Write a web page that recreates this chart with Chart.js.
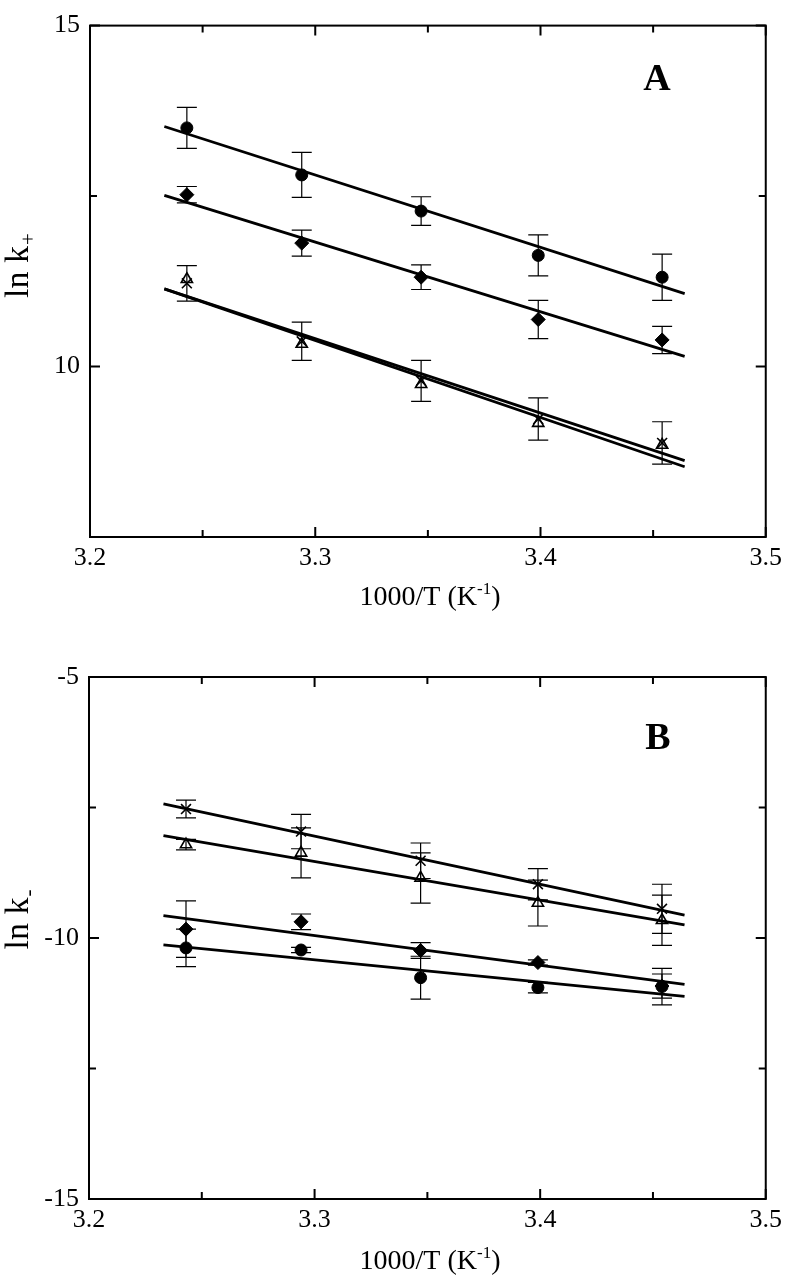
<!DOCTYPE html>
<html>
<head>
<meta charset="utf-8">
<script src="https://cdn.jsdelivr.net/npm/chart.js@4.4.0/dist/chart.umd.min.js"></script>
<style>
  body { margin: 0; background: #fff; }
  .panel { position: absolute; left: 0; width: 788px; height: 640px; }
</style>
</head>
<body>
<div class="panel" style="top:0"><canvas id="chartA" width="788" height="640"></canvas></div>
<div class="panel" style="top:640px"><canvas id="chartB" width="788" height="640"></canvas></div>
<script>
// 1000/T values of the five temperatures, and the x span of the fitted lines
const invTemp = [3.243, 3.294, 3.347, 3.399, 3.454];
const fitX = [3.233, 3.464];

// Panel A: ln k+
const circleA = [13.50, 12.81, 12.28, 11.63, 11.31];
const circleErrA = [0.30, 0.33, 0.21, 0.30, 0.34];
const circleFitA = [13.52, 11.07];
const diamondA = [12.52, 11.81, 11.31, 10.69, 10.39];
const diamondErrA = [0.12, 0.19, 0.18, 0.28, 0.20];
const diamondFitA = [12.51, 10.15];
const triangleA = [11.28, 10.33, 9.74, 9.17, 8.85];
const triangleFitA = [11.14, 8.53];
const crossA = [11.22, 10.37, 9.79, 9.23, 8.88];
const crossErrA = [0.26, 0.28, 0.30, 0.31, 0.31];
const crossFitA = [11.14, 8.62];

// Panel B: ln k-
const crossB = [-7.53, -7.96, -8.52, -8.97, -9.44];
const crossErrB = [0.17, 0.33, 0.34, 0.30, 0.47];
const crossFitB = [-7.43, -9.56];
const triangleB = [-8.21, -8.37, -8.85, -9.33, -9.66];
const triangleErrB = [0.10, 0.48, 0.48, 0.44, 0.48];
const triangleFitB = [-8.04, -9.75];
const diamondB = [-9.83, -9.69, -10.24, -10.47, -10.92];
const diamondErrB = [0.54, 0.15, 0.15, 0.05, 0.23];
const diamondFitB = [-9.57, -10.89];
const circleB = [-10.19, -10.23, -10.76, -10.95, -10.93];
const circleErrB = [0.36, 0.05, 0.41, 0.10, 0.35];
const circleFitB = [-10.13, -11.12];

// axes
const xRange = [3.2, 3.5];
const yRangeA = [7.5, 15];
const yRangeB = [-15, -5];

const serif = '"Liberation Serif", "Times New Roman", serif';
Chart.defaults.font.family = serif;
Chart.defaults.color = '#000';

const markers = {
    circle:   { pointStyle: 'circle',   pointRadius: 6,   backgroundColor: '#000', borderColor: '#000', borderWidth: 1 },
    diamond:  { pointStyle: 'rectRot',  pointRadius: 7,   backgroundColor: '#000', borderColor: '#000', borderWidth: 1 },
    triangle: { pointStyle: 'triangle', pointRadius: 6.5, backgroundColor: 'rgba(0,0,0,0)', borderColor: '#000', borderWidth: 1.6 },
    cross:    { pointStyle: 'crossRot', pointRadius: 7,   backgroundColor: '#000', borderColor: '#000', borderWidth: 1.6 }
};

function isMultiple(v, step) {
    const q = v / step;
    return Math.abs(q - Math.round(q)) < 1e-6;
}

// box frame with inward ticks on all four sides
const framePlugin = {
    id: 'frame',
    afterDraw(chart) {
        const { ctx, chartArea: a, scales: { x, y } } = chart;
        ctx.save();
        ctx.strokeStyle = '#000';
        ctx.lineWidth = 2;
        ctx.strokeRect(a.left, a.top, a.right - a.left, a.bottom - a.top);
        ctx.beginPath();
        x.ticks.forEach(t => {
            const px = x.getPixelForValue(t.value);
            const len = isMultiple(t.value, 0.1) ? 10 : 7;
            ctx.moveTo(px, a.bottom); ctx.lineTo(px, a.bottom - len);
            ctx.moveTo(px, a.top); ctx.lineTo(px, a.top + len);
        });
        y.ticks.forEach(t => {
            const py = y.getPixelForValue(t.value);
            const len = isMultiple(t.value, 5) ? 10 : 7;
            ctx.moveTo(a.left, py); ctx.lineTo(a.left + len, py);
            ctx.moveTo(a.right, py); ctx.lineTo(a.right - len, py);
        });
        ctx.stroke();
        ctx.restore();
    }
};

// vertical error bars with caps
const errorBarPlugin = {
    id: 'errorBars',
    beforeDatasetsDraw(chart) {
        const { ctx, scales: { x, y } } = chart;
        ctx.save();
        ctx.strokeStyle = '#000';
        ctx.lineWidth = 1.2;
        chart.data.datasets.forEach(ds => {
            if (!ds.errors) return;
            ds.data.forEach((p, i) => {
                const e = ds.errors[i];
                const px = x.getPixelForValue(p.x);
                const top = y.getPixelForValue(p.y + e);
                const bot = y.getPixelForValue(p.y - e);
                ctx.beginPath();
                ctx.moveTo(px, top); ctx.lineTo(px, bot);
                ctx.moveTo(px - 10, top); ctx.lineTo(px + 10, top);
                ctx.moveTo(px - 10, bot); ctx.lineTo(px + 10, bot);
                ctx.stroke();
            });
        });
        ctx.restore();
    }
};

// axis titles with super/subscripts and the panel letter
const textPlugin = {
    id: 'texts',
    afterDraw(chart, args, o) {
        const ctx = chart.ctx;
        ctx.save();
        ctx.fillStyle = '#000';
        ctx.textBaseline = 'alphabetic';
        ctx.textAlign = 'left';

        const big = '28px ' + serif, small = '17px ' + serif;
        ctx.font = big;
        const w1 = ctx.measureText('1000/T (K').width;
        const w3 = ctx.measureText(')').width;
        ctx.font = small;
        const w2 = ctx.measureText('-1').width;
        let sx = o.xTitleX - (w1 + w2 + w3) / 2;
        ctx.font = big;
        ctx.fillText('1000/T (K', sx, o.xTitleY);
        ctx.font = small;
        ctx.fillText('-1', sx + w1, o.xTitleY - 11);
        ctx.font = big;
        ctx.fillText(')', sx + w1 + w2, o.xTitleY);

        ctx.save();
        ctx.translate(o.yTitleX, o.yTitleY);
        ctx.rotate(-Math.PI / 2);
        const yBig = '34px ' + serif, ySmall = '21px ' + serif;
        ctx.font = yBig;
        const m1 = ctx.measureText('ln k').width;
        ctx.font = ySmall;
        const m2 = ctx.measureText(o.sub).width;
        const ty = -(m1 + m2) / 2;
        ctx.font = yBig;
        ctx.fillText('ln k', ty, 0);
        ctx.font = ySmall;
        ctx.fillText(o.sub, ty + m1 + 1, 7);
        ctx.restore();

        ctx.font = 'bold 38px ' + serif;
        ctx.textAlign = 'center';
        ctx.textBaseline = 'middle';
        ctx.fillText(o.letter, o.letterX, o.letterY);
        ctx.restore();
    }
};

function points(vals) {
    return invTemp.map((x, i) => ({ x: x, y: vals[i] }));
}

function fitLine(vals) {
    return {
        data: fitX.map((x, i) => ({ x: x, y: vals[i] })),
        showLine: true,
        borderColor: '#000',
        borderWidth: 2.8,
        pointRadius: 0,
        order: 2
    };
}

function series(vals, errs, marker) {
    return Object.assign({ data: points(vals), errors: errs, showLine: false, order: 1 }, markers[marker]);
}

function makeChart(id, datasets, yRange, pad, xAxisHeight, texts) {
    new Chart(document.getElementById(id), {
        type: 'scatter',
        data: { datasets: datasets },
        plugins: [errorBarPlugin, framePlugin, textPlugin],
        options: {
            responsive: false,
            animation: false,
            layout: { padding: { top: pad.top, right: pad.right, left: 0, bottom: 0 } },
            plugins: {
                legend: { display: false },
                tooltip: { enabled: false },
                texts: texts
            },
            scales: {
                x: {
                    type: 'linear',
                    min: xRange[0],
                    max: xRange[1],
                    grid: { display: false, drawTicks: false },
                    border: { display: false },
                    afterFit: s => { s.height = xAxisHeight; },
                    ticks: {
                        stepSize: 0.05,
                        autoSkip: false,
                        maxRotation: 0,
                        padding: 6,
                        font: { size: 26 },
                        callback: v => isMultiple(v, 0.1) ? v.toFixed(1) : ''
                    }
                },
                y: {
                    type: 'linear',
                    min: yRange[0],
                    max: yRange[1],
                    grid: { display: false, drawTicks: false },
                    border: { display: false },
                    afterFit: s => { s.width = pad.left; },
                    ticks: {
                        stepSize: 2.5,
                        autoSkip: false,
                        padding: 10,
                        font: { size: 26 },
                        callback: v => isMultiple(v, 5) ? String(v) : ''
                    }
                }
            }
        }
    });
}

makeChart('chartA', [
    fitLine(circleFitA), fitLine(diamondFitA), fitLine(triangleFitA), fitLine(crossFitA),
    series(circleA, circleErrA, 'circle'),
    series(diamondA, diamondErrA, 'diamond'),
    series(crossA, crossErrA, 'cross'),
    series(triangleA, null, 'triangle')
], yRangeA, { top: 15, right: 19, left: 90 }, 103,
{ xTitleX: 430, xTitleY: 605, yTitleX: 28, yTitleY: 266, sub: '+', letter: 'A', letterX: 657, letterY: 80 });

makeChart('chartB', [
    fitLine(crossFitB), fitLine(triangleFitB), fitLine(diamondFitB), fitLine(circleFitB),
    series(crossB, crossErrB, 'cross'),
    series(triangleB, triangleErrB, 'triangle'),
    series(diamondB, diamondErrB, 'diamond'),
    series(circleB, circleErrB, 'circle')
], yRangeB, { top: 37, right: 20, left: 89 }, 81,
{ xTitleX: 430, xTitleY: 629, yTitleX: 28, yTitleY: 280, sub: '-', letter: 'B', letterX: 658, letterY: 99 });
</script>
</body>
</html>
